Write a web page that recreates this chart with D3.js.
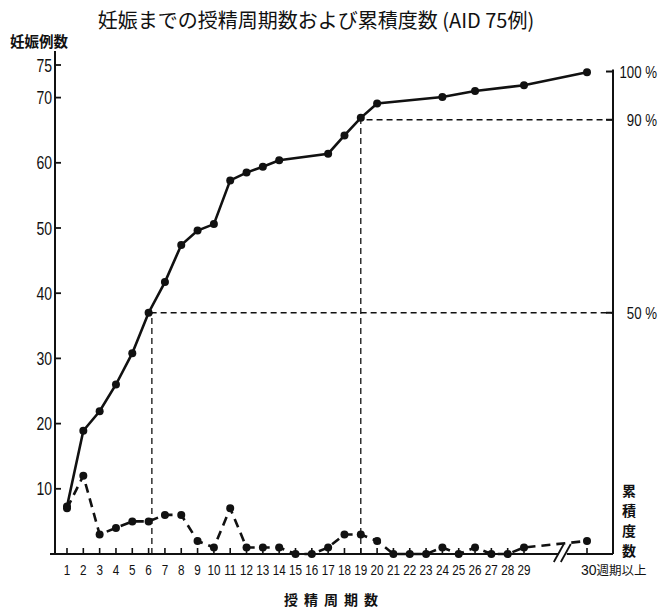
<!DOCTYPE html>
<html>
<head>
<meta charset="utf-8">
<script src="https://cdn.jsdelivr.net/npm/d3@7"></script>
<style>
  body { margin: 0; background: #fff; }
  .num { font-family: "Liberation Sans", Arial, sans-serif; fill: #111; }
  .jp { font-family: "Noto Sans CJK JP", "Noto Sans", sans-serif; fill: #111; }
</style>
</head>
<body>
<svg id="chart" width="664" height="609"></svg>
<script>
// week labels on the x axis (last one is the "30 or more" bucket)
const weekLabels = ["1","2","3","4","5","6","7","8","9","10","11","12","13","14","15","16","17","18","19","20","21","22","23","24","25","26","27","28","29","30週期以上"];
const weeks = d3.range(1, 31);

// pregnancies per insemination cycle (dashed line)
const freqValues = [7,12,3,4,5,5,6,6,2,1,7,1,1,1,0,0,1,3,3,2,0,0,0,1,0,1,0,0,1,2];

// cumulative count (solid line), only drawn where it changes
const cumWeeks  = [1,2,3,4,5,6,7,8,9,10,11,12,13,14,17,18,19,20,24,26,29,30];
const cumValues = [7.3,18.9,21.9,26,30.8,37,41.7,47.4,49.6,50.6,57.3,58.5,59.4,60.4,61.4,64.2,66.9,69.1,70.1,71.0,71.9,73.9];

// left / right tick values
const countTicks = [10,20,30,40,50,60,70,75];
const pctTicks = [100,90,50];

// reference guide lines (percent, week where curve reaches it)
const guidePct = [50, 90];
const guideWeek = [6.2, 19];

const svg = d3.select("#chart");

// scales - week 30 sits after a break in the axis
const x = d3.scaleLinear().domain([1, 29, 30]).range([67, 524, 587]);
const y = d3.scaleLinear().domain([0, 75]).range([554, 65]);
const yPct = d3.scaleLinear().domain([0, 100]).range([y(0), y(74)]);

const axisX = 55;
const rightX = 613;
const narrow = 0.78; // squeeze factor for the condensed digits

// helper: narrow number text placed at (px, py)
function narrowText(sel, px, py) {
  return sel.attr("transform", (d, i) => `translate(${px(d, i)},${py(d, i)}) scale(${narrow},1)`);
}

// title
svg.append("text")
  .attr("class", "jp")
  .attr("x", 316)
  .attr("y", 28)
  .attr("text-anchor", "middle")
  .style("font-size", "20px")
  .text("妊娠までの授精周期数および累積度数 (AID 75例)");

// left axis label
svg.append("text")
  .attr("class", "jp")
  .attr("x", 10)
  .attr("y", 47)
  .style("font-size", "14.5px")
  .style("font-weight", "bold")
  .text("妊娠例数");

// left axis
svg.append("line")
  .attr("x1", axisX).attr("x2", axisX)
  .attr("y1", y(0)).attr("y2", 51)
  .attr("stroke", "#111").attr("stroke-width", 2);

svg.selectAll(".ltick")
  .data(countTicks)
  .enter()
  .append("line")
  .attr("x1", axisX).attr("x2", axisX + 6)
  .attr("y1", (d) => y(d)).attr("y2", (d) => y(d))
  .attr("stroke", "#111").attr("stroke-width", 1.8);

narrowText(
  svg.selectAll(".llab")
    .data(countTicks)
    .enter()
    .append("text")
    .attr("class", "num")
    .attr("text-anchor", "end")
    .style("font-size", "18px")
    .text((d) => d),
  () => axisX - 3,
  (d) => y(d) + 6.5
);

// bottom axis, broken between 29 and 30
const breakX = x(29.6);
svg.append("line")
  .attr("x1", 50).attr("x2", breakX - 3)
  .attr("y1", y(0)).attr("y2", y(0))
  .attr("stroke", "#111").attr("stroke-width", 2.2);
svg.append("line")
  .attr("x1", breakX + 5).attr("x2", rightX)
  .attr("y1", y(0)).attr("y2", y(0))
  .attr("stroke", "#111").attr("stroke-width", 2.2);
[-3, 4].forEach((dx) => {
  svg.append("line")
    .attr("x1", breakX + dx - 5).attr("x2", breakX + dx + 5)
    .attr("y1", y(0) + 8).attr("y2", y(0) - 10)
    .attr("stroke", "#111").attr("stroke-width", 1.8);
});

svg.selectAll(".xtick")
  .data(weeks)
  .enter()
  .append("line")
  .attr("x1", (d) => x(d)).attr("x2", (d) => x(d))
  .attr("y1", y(0)).attr("y2", y(0) - 6)
  .attr("stroke", "#111").attr("stroke-width", 1.6);

narrowText(
  svg.selectAll(".xlab")
    .data(weeks.slice(0, 29))
    .enter()
    .append("text")
    .attr("class", "num")
    .attr("text-anchor", "middle")
    .style("font-size", "15px")
    .text((d, i) => weekLabels[i]),
  (d) => x(d),
  () => 575
);

// last bucket label "30週期以上"
const lastLab = svg.append("text")
  .attr("x", x(30) - 6)
  .attr("y", 575)
  .attr("text-anchor", "start");
lastLab.append("tspan")
  .attr("class", "num")
  .style("font-size", "14px")
  .text(weekLabels[29].slice(0, 2));
lastLab.append("tspan")
  .attr("class", "jp")
  .style("font-size", "12.5px")
  .text(weekLabels[29].slice(2));

// x axis label
svg.append("text")
  .attr("class", "jp")
  .attr("x", 334)
  .attr("y", 605)
  .attr("text-anchor", "middle")
  .style("font-size", "14px")
  .style("font-weight", "bold")
  .style("letter-spacing", "6px")
  .text("授精周期数");

// right axis (percent)
svg.append("line")
  .attr("x1", rightX).attr("x2", rightX)
  .attr("y1", y(0)).attr("y2", yPct(100) - 2)
  .attr("stroke", "#111").attr("stroke-width", 2);

svg.selectAll(".rtick")
  .data(pctTicks)
  .enter()
  .append("line")
  .attr("x1", rightX - 7).attr("x2", rightX + 1)
  .attr("y1", (d) => yPct(d)).attr("y2", (d) => yPct(d))
  .attr("stroke", "#111").attr("stroke-width", 2);

narrowText(
  svg.selectAll(".rlab")
    .data(pctTicks)
    .enter()
    .append("text")
    .attr("class", "num")
    .attr("text-anchor", "end")
    .style("font-size", "17px")
    .text((d) => d + " %"),
  () => 657,
  (d) => yPct(d) + 6
);

// vertical right label
svg.selectAll(".rvert")
  .data(["累", "積", "度", "数"])
  .enter()
  .append("text")
  .attr("class", "jp")
  .attr("x", 629)
  .attr("y", (d, i) => 496 + i * 20)
  .attr("text-anchor", "middle")
  .style("font-size", "14px")
  .style("font-weight", "bold")
  .text((d) => d);

// dashed guide lines at 50% and 90%
guidePct.forEach((p, i) => {
  const gx = x(guideWeek[i]);
  const gy = yPct(p);
  svg.append("path")
    .attr("d", `M${gx},${y(0)}V${gy}H${rightX}`)
    .attr("fill", "none")
    .attr("stroke", "#111")
    .attr("stroke-width", 1.3)
    .attr("stroke-dasharray", "6,4");
});

// frequency line (dashed)
const freqData = weeks.map((w, i) => ({ week: w, value: freqValues[i] }));
const line = d3.line().x((d) => x(d.week)).y((d) => y(d.value));

svg.append("path")
  .attr("d", line(freqData))
  .attr("fill", "none")
  .attr("stroke", "#111")
  .attr("stroke-width", 2.6)
  .attr("stroke-dasharray", "9,6");

svg.selectAll(".fdot")
  .data(freqData)
  .enter()
  .append("circle")
  .attr("cx", (d) => x(d.week))
  .attr("cy", (d) => y(d.value))
  .attr("r", 4)
  .attr("fill", "#111");

// cumulative line (solid)
const cumData = cumWeeks.map((w, i) => ({ week: w, value: cumValues[i] }));

svg.append("path")
  .attr("d", line(cumData))
  .attr("fill", "none")
  .attr("stroke", "#111")
  .attr("stroke-width", 2.6);

svg.selectAll(".cdot")
  .data(cumData)
  .enter()
  .append("circle")
  .attr("cx", (d) => x(d.week))
  .attr("cy", (d) => y(d.value))
  .attr("r", 4)
  .attr("fill", "#111");
</script>
</body>
</html>
